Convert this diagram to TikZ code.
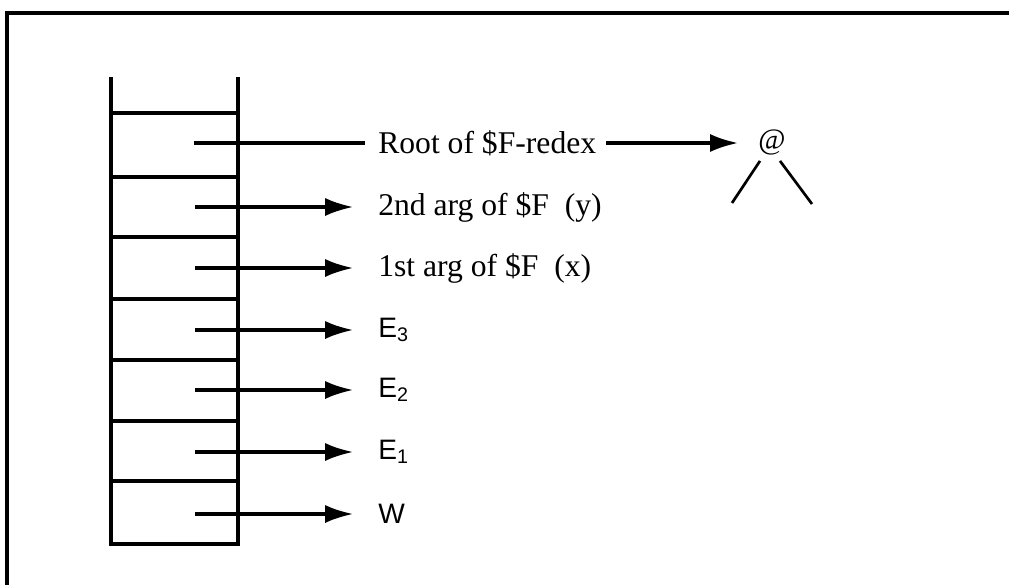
\documentclass[tikz,border=0pt]{standalone}
\usepackage{fontspec}
\setmainfont{Liberation Serif}
\setsansfont{Liberation Sans}
\usetikzlibrary{arrows.meta,positioning}
\tikzset{
  stk/.style={line width=2.2pt},
  ptr/.style={line width=2.2pt,-{Latex[length=0.7cm,width=0.45cm]}},
  lbl/.style={anchor=west,inner sep=0pt,font=\fontsize{22.5}{26}\selectfont},
  slbl/.style={anchor=west,inner sep=0pt,font=\sffamily\fontsize{20}{24}\selectfont},
}

\begin{document}
\begin{tikzpicture}[x=0.025cm,y=-0.025cm]
\useasboundingbox (0,0) rectangle (1009,585);
\draw[line width=2.8pt] (1009,13) -- (7,13) -- (7,585);
% the stack
\draw[stk] (111,77) -- (111,544) -- (238,544) -- (238,77);
\foreach \y in {113,177,237,299,360,421,481}
  \draw[stk] (111,\y) -- (238,\y);
% what the cells point at
\node[lbl] (root) at (378,143) {Root of \$F-redex};
\node[lbl] (arg2) at (378,207) {2nd arg of \$F\ \ (y)};
\node[lbl] (arg1) at (378,268) {1st arg of \$F\ \ (x)};
\node[slbl] (e3) at (378,330) {E\textsubscript{3}};
\node[slbl] (e2) at (378,390) {E\textsubscript{2}};
\node[slbl] (e1) at (378,452) {E\textsubscript{1}};
\node[slbl] (w) at (378,514) {W};
\node[inner sep=0pt,font=\fontsize{21}{24}\selectfont] (app) at (772,142) {@};
\coordinate (appl) at (732,203);
\coordinate (appr) at (812,204);
\coordinate (root-s) at (194,143);
\draw[stk,shorten >=0.33cm] (root-s) -- (root-s -| root.west);
\draw[ptr,shorten <=0.25cm,shorten >=0.5cm] (root.east) -- (root.east -| app.west);
\draw[line width=1.9pt] (app.south) ++(-12,6) -- (appl);
\draw[line width=1.9pt] (app.south) ++(8,6) -- (appr);
\foreach \y/\n in {207/arg2,268/arg1,330/e3,390/e2,452/e1,514/w}{
  \coordinate (\n-s) at (195,\y);
  \draw[ptr,shorten >=0.62cm] (\n-s) -- (\n-s -| \n.west);
}
\end{tikzpicture}
\end{document}
